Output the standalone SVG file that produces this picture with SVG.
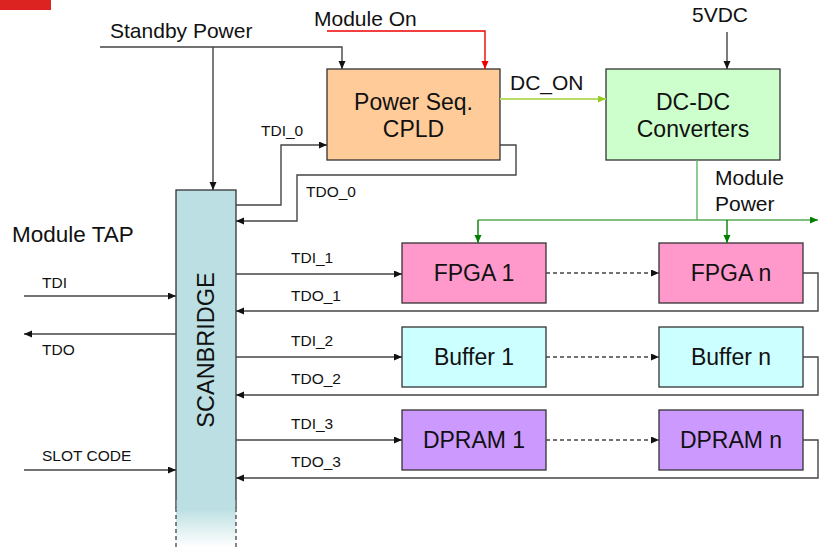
<svg xmlns="http://www.w3.org/2000/svg" width="821" height="547" viewBox="0 0 821 547">
<style>
text{font-family:"Liberation Sans",Arial,sans-serif;fill:#111}
.big{font-size:23px;text-anchor:middle}
.lbl{font-size:21px}
.sm{font-size:15.5px}
.box{stroke:#333;stroke-width:1.3}
.ln{fill:none;stroke:#444;stroke-width:1.4}
.dash{fill:none;stroke:#444;stroke-width:1.3;stroke-dasharray:4 3}
</style>
<defs>
<marker id="ah" markerUnits="userSpaceOnUse" markerWidth="9" markerHeight="8" refX="8" refY="3.5" orient="auto"><path d="M0,0 L8,3.5 L0,7 z" fill="#111"/></marker>
<marker id="ahr" markerUnits="userSpaceOnUse" markerWidth="9" markerHeight="8" refX="8" refY="3.5" orient="auto"><path d="M0,0 L8,3.5 L0,7 z" fill="#e00"/></marker>
<marker id="ahy" markerUnits="userSpaceOnUse" markerWidth="9" markerHeight="8" refX="8" refY="3.5" orient="auto"><path d="M0,0 L8,3.5 L0,7 z" fill="#99cc22"/></marker>
<marker id="ahg" markerUnits="userSpaceOnUse" markerWidth="9" markerHeight="8" refX="8" refY="3.5" orient="auto"><path d="M0,0 L8,3.5 L0,7 z" fill="#008000"/></marker>
<linearGradient id="fade" x1="0" y1="0" x2="0" y2="1"><stop offset="0" stop-color="#BBDFE2"/><stop offset="1" stop-color="#BBDFE2" stop-opacity="0"/></linearGradient>
</defs>
<rect x="0" y="0" width="51" height="10" fill="#DD2222"/>

<g id="scanbridge">
<rect x="176" y="190" width="60" height="318" fill="#BBDFE2" class="box"/>
<rect x="176" y="508" width="60" height="39" fill="url(#fade)"/>
<line x1="176" y1="508" x2="176" y2="547" class="dash" stroke="#555"/>
<line x1="236" y1="508" x2="236" y2="547" class="dash" stroke="#555"/>
<rect x="176.7" y="500" width="58.6" height="10" fill="#BBDFE2"/>
<text transform="translate(214,350) rotate(-90)" class="big" style="font-size:23.5px">SCANBRIDGE</text>
</g>

<g id="cpld">
<rect x="327" y="69" width="173" height="91" fill="#FFCC99" class="box"/>
<text x="413.5" y="110" class="big">Power Seq.</text>
<text x="413.5" y="137" class="big">CPLD</text>
</g>
<g id="dcdc">
<rect x="606" y="69" width="174" height="91" fill="#CCFFCC" class="box"/>
<text x="693" y="110" class="big">DC-DC</text>
<text x="693" y="137" class="big">Converters</text>
</g>
<g id="fpga1"><rect x="402" y="243" width="144" height="60" fill="#FF99CC" class="box"/><text x="474" y="281" class="big">FPGA 1</text></g>
<g id="fpgan"><rect x="659" y="243" width="144" height="60" fill="#FF99CC" class="box"/><text x="731" y="281" class="big">FPGA n</text></g>
<g id="buf1"><rect x="402" y="327" width="144" height="60" fill="#CCFFFF" class="box"/><text x="474" y="365" class="big">Buffer 1</text></g>
<g id="bufn"><rect x="659" y="327" width="144" height="60" fill="#CCFFFF" class="box"/><text x="731" y="365" class="big">Buffer n</text></g>
<g id="dpram1"><rect x="402" y="410" width="144" height="60" fill="#CC99FF" class="box"/><text x="474" y="448" class="big">DPRAM 1</text></g>
<g id="dpramn"><rect x="659" y="410" width="144" height="60" fill="#CC99FF" class="box"/><text x="731" y="448" class="big">DPRAM n</text></g>

<g id="connectors">
<path d="M100,47 H342 V69" class="ln" marker-end="url(#ah)"/>
<path d="M213,47 V190" class="ln" marker-end="url(#ah)"/>
<path d="M327,31 H485 V69" fill="none" stroke="#e00" stroke-width="1.4" marker-end="url(#ahr)"/>
<path d="M500,99 H606" fill="none" stroke="#b8dc66" stroke-width="2" marker-end="url(#ahy)"/>
<path d="M727,32 V69" class="ln" marker-end="url(#ah)"/>
<path d="M697,160 V220" fill="none" stroke="#66b366" stroke-width="1.4"/>
<path d="M478,220 H818" fill="none" stroke="#55aa55" stroke-width="1.4" marker-end="url(#ahg)"/>
<path d="M478,220 V243" fill="none" stroke="#008000" stroke-width="1.4" marker-end="url(#ahg)"/>
<path d="M727,220 V243" fill="none" stroke="#008000" stroke-width="1.4" marker-end="url(#ahg)"/>
<path d="M236,205 H281 V145 H327" class="ln" marker-end="url(#ah)"/>
<path d="M500,145 H516 V175 H297 V221 H236" class="ln" marker-end="url(#ah)"/>
<path d="M24,296 H176" class="ln" marker-end="url(#ah)"/>
<path d="M176,334 H24" class="ln" marker-end="url(#ah)"/>
<path d="M24,470 H176" class="ln" marker-end="url(#ah)"/>
<path d="M236,274 H402" class="ln" marker-end="url(#ah)"/>
<path d="M546,273 H659" class="dash" marker-end="url(#ah)"/>
<path d="M803,273 H818 V311 H236" class="ln" marker-end="url(#ah)"/>
<path d="M236,357 H402" class="ln" marker-end="url(#ah)"/>
<path d="M546,357 H659" class="dash" marker-end="url(#ah)"/>
<path d="M803,357 H818 V395 H236" class="ln" marker-end="url(#ah)"/>
<path d="M236,440 H402" class="ln" marker-end="url(#ah)"/>
<path d="M546,440 H659" class="dash" marker-end="url(#ah)"/>
<path d="M803,440 H818 V478 H236" class="ln" marker-end="url(#ah)"/>
</g>

<g id="labels">
<text x="110" y="38" class="lbl">Standby Power</text>
<text x="314" y="26" class="lbl">Module On</text>
<text x="510" y="90" class="lbl">DC_ON</text>
<text x="692" y="22" class="lbl">5VDC</text>
<text x="715" y="185" class="lbl">Module</text>
<text x="715" y="211" class="lbl">Power</text>
<text x="12" y="242" style="font-size:22.5px">Module TAP</text>
<text x="261" y="136" class="sm">TDI_0</text>
<text x="306" y="197" class="sm">TDO_0</text>
<text x="42" y="288" class="sm">TDI</text>
<text x="42" y="355" class="sm">TDO</text>
<text x="42" y="461" class="sm">SLOT CODE</text>
<text x="291" y="263" class="sm">TDI_1</text>
<text x="291" y="301" class="sm">TDO_1</text>
<text x="291" y="346" class="sm">TDI_2</text>
<text x="291" y="384" class="sm">TDO_2</text>
<text x="291" y="429" class="sm">TDI_3</text>
<text x="291" y="467" class="sm">TDO_3</text>
</g>
</svg>
